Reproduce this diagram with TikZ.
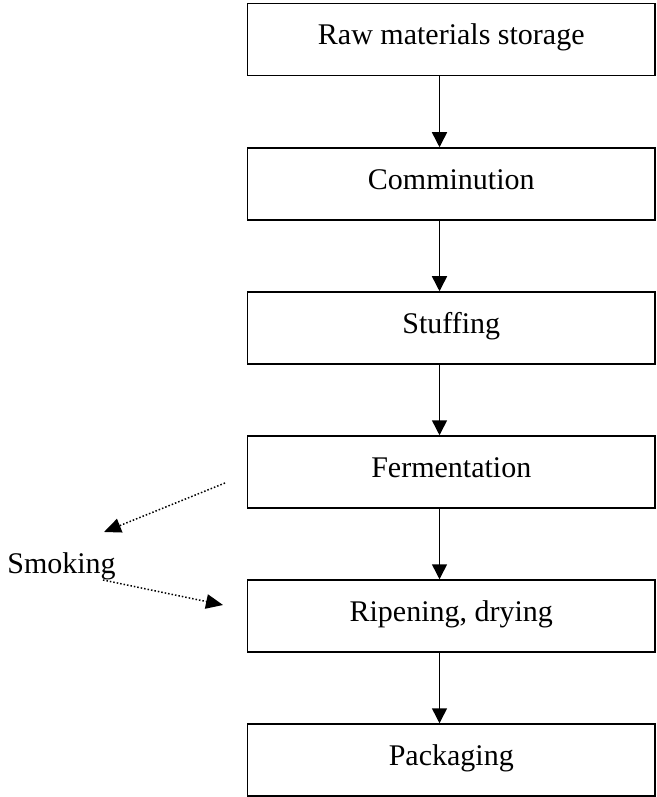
\documentclass[tikz,border=0pt]{standalone}
\usepackage{fontspec}
\setmainfont{Liberation Serif}
\usetikzlibrary{arrows.meta}
\begin{document}
\begin{tikzpicture}[x=0.4pt,y=-0.4pt,
  stepbox/.style={draw, line width=0.6pt, minimum width=163pt, minimum height=28.8pt, inner sep=0pt, text height=8pt, text depth=3.6pt, font=\fontsize{12}{14}\selectfont},
  flow/.style={line width=0.6pt, -{Triangle[length=6pt,width=6pt]}},
  dotflow/.style={line width=0.6pt, dash pattern=on 0.6pt off 0.8pt, -{Triangle[length=6.8pt,width=5.8pt]}}]
\useasboundingbox (0,0) rectangle (656,797);
\node[stepbox] (b1) at (451.25,39.5) {Raw materials storage};
\node[stepbox] (b2) at (451.25,184) {Comminution};
\node[stepbox] (b3) at (451.25,328) {Stuffing};
\node[stepbox] (b4) at (451.25,472) {Fermentation};
\node[stepbox] (b5) at (451.25,616) {Ripening, drying};
\node[stepbox] (b6) at (451.25,760) {Packaging};
\coordinate (ax) at (439.5,0);
\draw[flow] (b1.south -| ax) -- (b2.north -| ax);
\draw[flow] (b2.south -| ax) -- (b3.north -| ax);
\draw[flow] (b3.south -| ax) -- (b4.north -| ax);
\draw[flow] (b4.south -| ax) -- (b5.north -| ax);
\draw[flow] (b5.south -| ax) -- (b6.north -| ax);
\node[anchor=base, inner sep=0pt, font=\fontsize{12}{14}\selectfont] (sm) at (61.5,573) {Smoking};
\coordinate (d1s) at (225,483);
\coordinate (d1e) at (104,532);
\coordinate (d2s) at (103,580);
\coordinate (d2e) at (223,605);
\draw[dotflow] (d1s) -- (d1e);
\draw[dotflow] (d2s) -- (d2e);
\end{tikzpicture}
\end{document}
